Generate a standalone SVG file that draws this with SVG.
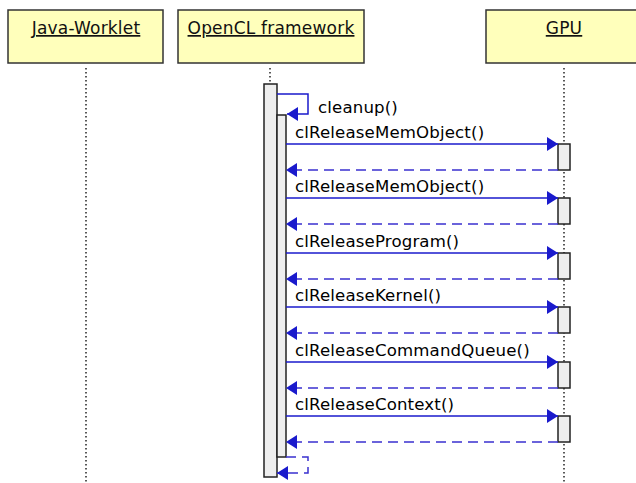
<svg xmlns="http://www.w3.org/2000/svg" width="636" height="483" viewBox="0 0 636 483">
<style>
.box{fill:#ffffbb;stroke:#333;stroke-width:1.5}
.hdr{font-family:"DejaVu Sans",sans-serif;font-size:17px;letter-spacing:0.2px;fill:#111;text-anchor:middle;text-decoration:underline}
.life{stroke:#000;stroke-width:1.3;stroke-dasharray:1.5,2.5;fill:none}
.act{fill:#eeeeee;stroke:#222;stroke-width:1.5}
.call{stroke:#1a1acc;stroke-width:1.5;fill:none;marker-end:url(#ah)}
.ret{stroke:#3a30d0;stroke-width:1.5;fill:none;stroke-dasharray:10,6;marker-end:url(#ah)}
.lbl{font-family:"DejaVu Sans",sans-serif;font-size:16.6px;letter-spacing:0.15px;fill:#000}
</style>
<defs>
<marker id="ah" markerWidth="12" markerHeight="14" refX="11" refY="7" orient="auto" markerUnits="userSpaceOnUse">
<path d="M0,0 L11,7 L0,14 Z" fill="#1a1acc"/>
</marker>
</defs>
<rect width="636" height="483" fill="#fff"/>
<g id="java-worklet">
<rect class="box" x="8" y="10" width="155" height="53"/>
<text class="hdr" x="86" y="34">Java-Worklet</text>
<line class="life" x1="86" y1="68" x2="86" y2="483"/>
</g>
<g id="opencl-framework">
<rect class="box" x="178" y="10" width="186" height="53"/>
<text class="hdr" x="271" y="34">OpenCL framework</text>
<line class="life" x1="270" y1="68" x2="270" y2="84"/>
<rect class="act" x="264" y="84" width="13" height="393"/>
<rect class="act" x="277" y="115" width="9" height="342"/>
</g>
<g id="gpu">
<rect class="box" x="486" y="10" width="160" height="53"/>
<text class="hdr" x="564" y="34">GPU</text>
<line class="life" x1="564" y1="68" x2="564" y2="483"/>
<rect class="act" x="558" y="144" width="12" height="26"/>
<rect class="act" x="558" y="198" width="12" height="26"/>
<rect class="act" x="558" y="253" width="12" height="26"/>
<rect class="act" x="558" y="307" width="12" height="26"/>
<rect class="act" x="558" y="362" width="12" height="26"/>
<rect class="act" x="558" y="416" width="12" height="26"/>
</g>
<g id="connectors">
<path class="call" d="M277,94 H308 V114 H287"/>
<text class="lbl" x="318" y="113">cleanup()</text>
<line class="call" x1="286" y1="144" x2="558" y2="144"/>
<text class="lbl" x="295" y="138">clReleaseMemObject()</text>
<line class="ret" x1="558" y1="170" x2="286" y2="170"/>
<line class="call" x1="286" y1="198" x2="558" y2="198"/>
<text class="lbl" x="295" y="192">clReleaseMemObject()</text>
<line class="ret" x1="558" y1="224" x2="286" y2="224"/>
<line class="call" x1="286" y1="253" x2="558" y2="253"/>
<text class="lbl" x="295" y="247">clReleaseProgram()</text>
<line class="ret" x1="558" y1="279" x2="286" y2="279"/>
<line class="call" x1="286" y1="307" x2="558" y2="307"/>
<text class="lbl" x="295" y="301">clReleaseKernel()</text>
<line class="ret" x1="558" y1="333" x2="286" y2="333"/>
<line class="call" x1="286" y1="362" x2="558" y2="362"/>
<text class="lbl" x="295" y="356">clReleaseCommandQueue()</text>
<line class="ret" x1="558" y1="388" x2="286" y2="388"/>
<line class="call" x1="286" y1="416" x2="558" y2="416"/>
<text class="lbl" x="295" y="410">clReleaseContext()</text>
<line class="ret" x1="558" y1="442" x2="286" y2="442"/>
<path class="ret" d="M286,457 H308 V473 H277"/>
</g>
</svg>
